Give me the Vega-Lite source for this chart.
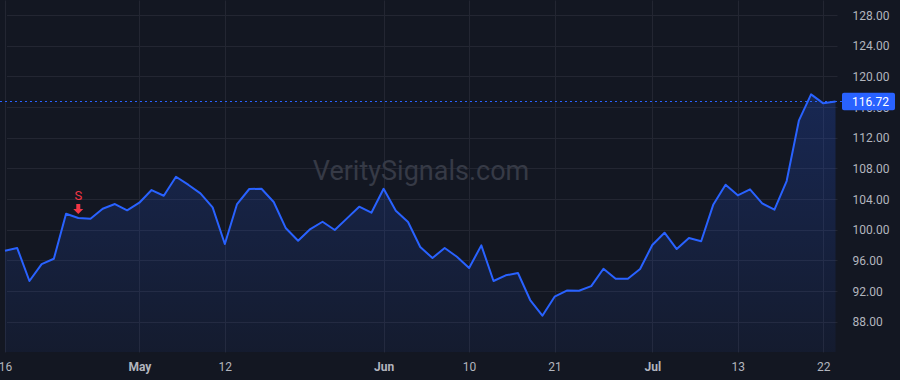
{
  "$schema": "https://vega.github.io/schema/vega-lite/v6.json",
  "width": 842,
  "height": 352,
  "autosize": {"type": "none"},
  "padding": {"left": 0, "top": 0, "right": 58, "bottom": 28},
  "background": "#131722",
  "datasets": {
    "prices": [
      {"date": "2021-04-16", "close": 97.26},
      {"date": "2021-04-19", "close": 97.61},
      {"date": "2021-04-20", "close": 93.31},
      {"date": "2021-04-21", "close": 95.52},
      {"date": "2021-04-22", "close": 96.21},
      {"date": "2021-04-23", "close": 102.08},
      {"date": "2021-04-26", "close": 101.52},
      {"date": "2021-04-27", "close": 101.43},
      {"date": "2021-04-28", "close": 102.74},
      {"date": "2021-04-29", "close": 103.35},
      {"date": "2021-04-30", "close": 102.53},
      {"date": "2021-05-03", "close": 103.52},
      {"date": "2021-05-04", "close": 105.17},
      {"date": "2021-05-05", "close": 104.43},
      {"date": "2021-05-06", "close": 106.91},
      {"date": "2021-05-07", "close": 105.87},
      {"date": "2021-05-10", "close": 104.74},
      {"date": "2021-05-11", "close": 102.92},
      {"date": "2021-05-12", "close": 98.13},
      {"date": "2021-05-13", "close": 103.35},
      {"date": "2021-05-14", "close": 105.31},
      {"date": "2021-05-17", "close": 105.34},
      {"date": "2021-05-18", "close": 103.61},
      {"date": "2021-05-19", "close": 100.18},
      {"date": "2021-05-20", "close": 98.57},
      {"date": "2021-05-21", "close": 100.09},
      {"date": "2021-05-24", "close": 101.04},
      {"date": "2021-05-25", "close": 99.96},
      {"date": "2021-05-26", "close": 101.48},
      {"date": "2021-05-27", "close": 103.0},
      {"date": "2021-05-28", "close": 102.22},
      {"date": "2021-06-01", "close": 105.34},
      {"date": "2021-06-02", "close": 102.48},
      {"date": "2021-06-03", "close": 101.0},
      {"date": "2021-06-04", "close": 97.74},
      {"date": "2021-06-07", "close": 96.31},
      {"date": "2021-06-08", "close": 97.61},
      {"date": "2021-06-09", "close": 96.48},
      {"date": "2021-06-10", "close": 95.0},
      {"date": "2021-06-11", "close": 97.96},
      {"date": "2021-06-14", "close": 93.31},
      {"date": "2021-06-15", "close": 94.05},
      {"date": "2021-06-16", "close": 94.35},
      {"date": "2021-06-17", "close": 90.83},
      {"date": "2021-06-18", "close": 88.78},
      {"date": "2021-06-21", "close": 91.26},
      {"date": "2021-06-22", "close": 92.06},
      {"date": "2021-06-23", "close": 92.04},
      {"date": "2021-06-24", "close": 92.65},
      {"date": "2021-06-25", "close": 94.91},
      {"date": "2021-06-28", "close": 93.61},
      {"date": "2021-06-29", "close": 93.61},
      {"date": "2021-06-30", "close": 94.87},
      {"date": "2021-07-01", "close": 98.0},
      {"date": "2021-07-02", "close": 99.61},
      {"date": "2021-07-06", "close": 97.48},
      {"date": "2021-07-07", "close": 98.91},
      {"date": "2021-07-08", "close": 98.5},
      {"date": "2021-07-09", "close": 103.3},
      {"date": "2021-07-12", "close": 105.87},
      {"date": "2021-07-13", "close": 104.48},
      {"date": "2021-07-14", "close": 105.26},
      {"date": "2021-07-15", "close": 103.43},
      {"date": "2021-07-16", "close": 102.61},
      {"date": "2021-07-19", "close": 106.35},
      {"date": "2021-07-20", "close": 114.22},
      {"date": "2021-07-21", "close": 117.65},
      {"date": "2021-07-22", "close": 116.48},
      {"date": "2021-07-23", "close": 116.72}
    ],
    "signals": [
      {"date": "2021-04-26", "close": 101.52, "signal": "S"}
    ]
  },
  "data": {"name": "prices"},
  "encoding": {
    "x": {
      "field": "date",
      "type": "ordinal",
      "sort": null,
      "scale": {"type": "point", "range": [5, 835.5], "padding": 0},
      "axis": {
        "title": null,
        "values": ["2021-04-16", "2021-05-03", "2021-05-12", "2021-06-01", "2021-06-10", "2021-06-21", "2021-07-01", "2021-07-13", "2021-07-22"],
        "labelExpr": "datum.value == '2021-05-03' ? 'May' : datum.value == '2021-06-01' ? 'Jun' : datum.value == '2021-07-01' ? 'Jul' : '' + toNumber(substring(datum.value, 8, 10))",
        "labelFontWeight": {"condition": {"test": "indexof(['2021-05-03','2021-06-01','2021-07-01'], datum.value) >= 0", "value": "bold"}, "value": "normal"},
        "labelAngle": 0,
        "labelPadding": 9,
        "labelOverlap": false,
        "labelBound": false,
        "labelFlush": false,
        "grid": true
      }
    },
    "y": {
      "field": "close",
      "type": "quantitative",
      "scale": {"domain": [84.05, 129.96], "nice": false, "zero": false},
      "axis": {
        "orient": "right",
        "title": null,
        "values": [88, 92, 96, 100, 104, 108, 112, 116, 120, 124, 128],
        "tickCount": 11,
        "format": ".2f",
        "labelAlign": "left",
        "labelPadding": 10,
        "labelOverlap": false,
        "labelSeparation": 0,
        "labelBound": false,
        "labelFlush": false,
        "grid": true
      }
    }
  },
  "layer": [
    {
      "data": {"values": [{}]},
      "mark": {"type": "text", "text": "VeritySignals.com", "font": "Roboto", "fontSize": 27, "color": "#363a46", "align": "center", "baseline": "middle", "x": {"expr": "width/2"}, "y": {"expr": "height*0.489"}},
      "encoding": {"x": null, "y": null}
    },
    {
      "mark": {
        "type": "area",
        "color": {
          "gradient": "linear",
          "x1": 1, "y1": 1, "x2": 1, "y2": 0,
          "stops": [
            {"offset": 0, "color": "rgba(41,98,255,0.06)"},
            {"offset": 1, "color": "rgba(41,98,255,0.22)"}
          ]
        }
      },
      "encoding": {"y2": {"datum": 84.05}}
    },
    {
      "mark": {"type": "line", "color": "#2962FF", "strokeWidth": 2, "strokeJoin": "round"}
    },
    {
      "transform": [{"filter": {"field": "date", "equal": "2021-07-23"}}],
      "mark": {"type": "rule", "color": "#2962FF", "strokeWidth": 1, "strokeDash": [2, 3]},
      "encoding": {"x": null}
    },
    {
      "transform": [{"filter": {"field": "date", "equal": "2021-07-23"}}],
      "mark": {"type": "rect", "color": "#2962FF", "cornerRadius": 2, "yOffset": -8.7, "y2Offset": 8.7, "x": {"expr": "width"}, "x2": {"expr": "width + 53"}},
      "encoding": {"x": null, "y2": {"field": "close"}}
    },
    {
      "transform": [{"filter": {"field": "date", "equal": "2021-07-23"}}],
      "mark": {"type": "text", "color": "#ffffff", "font": "Roboto", "fontSize": 12, "align": "left", "baseline": "middle", "x": {"expr": "width + 10"}},
      "encoding": {"x": null, "text": {"field": "close", "type": "quantitative", "format": ".2f"}}
    },
    {
      "data": {"name": "signals"},
      "mark": {"type": "point", "shape": "M-0.4,-1 L0.4,-1 L0.4,0 L1,0 L0,1 L-1,0 L-0.4,0 Z", "size": 100, "filled": true, "color": "#F23645", "opacity": 1, "yOffset": -9}
    },
    {
      "data": {"name": "signals"},
      "mark": {"type": "text", "color": "#F23645", "font": "Roboto", "fontSize": 13, "align": "center", "baseline": "middle", "yOffset": -22},
      "encoding": {"text": {"field": "signal"}}
    }
  ],
  "config": {
    "view": {"stroke": null},
    "axis": {
      "domain": false,
      "ticks": false,
      "gridColor": "#232632",
      "gridWidth": 1,
      "labelColor": "#B2B5BE",
      "labelFont": "Roboto",
      "labelFontSize": 12
    }
  }
}
